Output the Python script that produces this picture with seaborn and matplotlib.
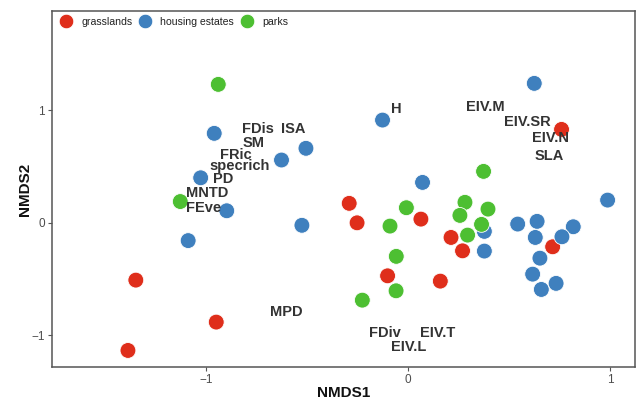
import matplotlib
matplotlib.use("Agg")
import matplotlib.pyplot as plt
import seaborn as sns
import pandas as pd

# ---- data ----
grass_x = [-1.347, -1.386, -0.949, -0.291, -0.252, 0.064, 0.213, 0.270, 0.716, -0.101, 0.160, 0.760]
grass_y = [-0.511, -1.136, -0.884, 0.171, -0.002, 0.031, -0.132, -0.251, -0.215, -0.473, -0.520, 0.828]

house_x = [0.625, -0.126, 0.072, 0.988, 0.543, 0.639, 0.630, 0.818, 0.762, 0.378, 0.378,
           0.653, 0.617, 0.733, 0.660, -0.959, -0.505, -0.626, -1.026, -0.897, -0.525, -1.088]
house_y = [1.237, 0.911, 0.357, 0.200, -0.013, 0.011, -0.132, -0.037, -0.126, -0.078, -0.253,
           -0.316, -0.458, -0.540, -0.594, 0.793, 0.660, 0.556, 0.398, 0.105, -0.024, -0.160]

park_x = [-0.939, -1.127, 0.374, -0.008, -0.089, 0.282, 0.396, 0.257, 0.364, 0.295, -0.058, -0.059, -0.226]
park_y = [1.228, 0.187, 0.455, 0.132, -0.031, 0.180, 0.120, 0.064, -0.016, -0.111, -0.300, -0.606, -0.689]

var_names = ["FDis", "ISA", "SM", "FRic", "specrich", "PD", "MNTD", "FEve", "H",
             "EIV.M", "EIV.SR", "EIV.N", "SLA", "MPD", "FDiv", "EIV.T", "EIV.L"]
var_x = [-0.741, -0.567, -0.766, -0.852, -0.832, -0.914, -0.992, -1.013, -0.058,
         0.382, 0.589, 0.704, 0.698, -0.600, -0.116, 0.146, 0.003]
var_y = [0.828, 0.828, 0.705, 0.603, 0.506, 0.387, 0.265, 0.127, 1.006,
         1.026, 0.898, 0.750, 0.596, -0.793, -0.985, -0.985, -1.104]

groups = ["grasslands", "housing estates", "parks"]
colors = ["#DF2E1B", "#3F80BE", "#4DBF32"]

df = pd.concat([
    pd.DataFrame({"NMDS1": grass_x, "NMDS2": grass_y, "group": groups[0]}),
    pd.DataFrame({"NMDS1": house_x, "NMDS2": house_y, "group": groups[1]}),
    pd.DataFrame({"NMDS1": park_x, "NMDS2": park_y, "group": groups[2]}),
], ignore_index=True)

sns.set_style("white")
plt.rcParams["font.family"] = ["Liberation Sans", "DejaVu Sans"]

fig = plt.figure(figsize=(6.37, 4.0), dpi=100)
ax = fig.add_axes([0.0816, 0.0825, 0.9154, 0.89])

sns.scatterplot(data=df, x="NMDS1", y="NMDS2", hue="group", hue_order=groups,
                palette=dict(zip(groups, colors)), s=130, edgecolor="white",
                linewidth=0.6, alpha=1, ax=ax, zorder=3)

for n, x, y in zip(var_names, var_x, var_y):
    ax.text(x, y, n, ha="center", va="center", fontsize=10.5, fontweight="bold",
            color="#333333", zorder=4)

ax.set_xlim(-1.762, 1.124)
ax.set_ylim(-1.283, 1.88)
ax.set_xticks([-1, 0, 1])
ax.set_yticks([-1, 0, 1])
ax.set_xticklabels(["\u22121", "0", "1"])
ax.set_yticklabels(["\u22121", "0", "1"])
ax.tick_params(axis="both", direction="out", length=3, width=0.8, color="#555555",
               labelsize=8.5, labelcolor="#4D4D4D", pad=2, bottom=True, left=True)
for sp in ax.spines.values():
    sp.set_color("#555555")
    sp.set_linewidth(1.1)

ax.set_xlabel("NMDS1", fontsize=11, fontweight="bold", color="#111111", labelpad=0)
ax.set_ylabel("NMDS2", fontsize=11, fontweight="bold", color="#111111", labelpad=0)

leg = ax.legend(loc="upper left", ncol=3, frameon=False, fontsize=7.6,
                handletextpad=0.75, columnspacing=0.45, borderaxespad=0.18,
                markerscale=0.92, bbox_to_anchor=(0.0, 1.0),
                handlelength=1.45)
for t in leg.get_texts():
    t.set_color("#222222")

fig.savefig("out.png", dpi=100)
